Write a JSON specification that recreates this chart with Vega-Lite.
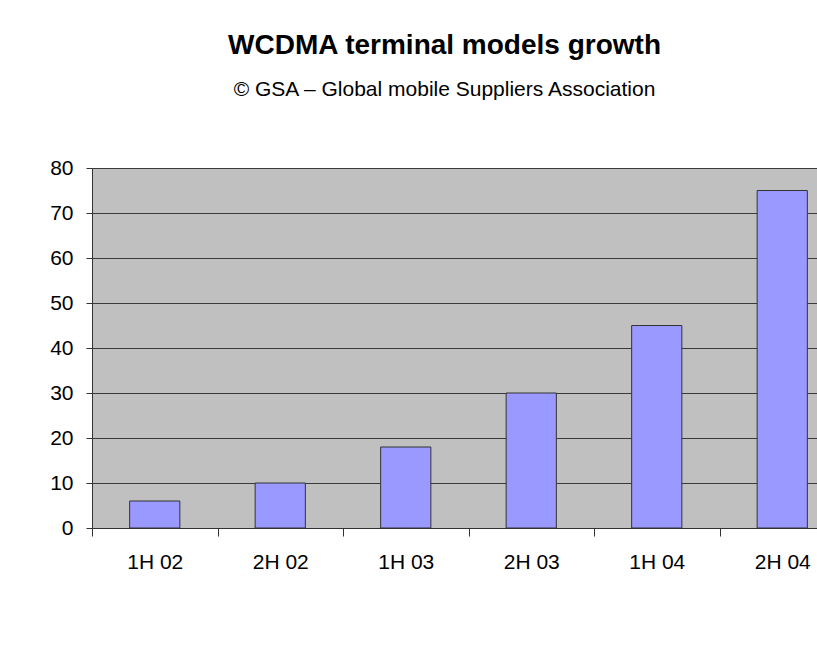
{
  "$schema": "https://vega.github.io/schema/vega-lite/v6.json",
  "autosize": {"type": "none"},
  "width": 725,
  "height": 360,
  "padding": {"left": 92, "top": 168, "right": 0, "bottom": 118},
  "background": "white",
  "title": {
    "text": "WCDMA terminal models growth",
    "subtitle": "© GSA – Global mobile Suppliers Association",
    "font": "Liberation Sans",
    "fontSize": 28,
    "fontWeight": "bold",
    "color": "black",
    "subtitleFont": "Liberation Sans",
    "subtitleFontSize": 21,
    "subtitleColor": "black",
    "subtitlePadding": 19,
    "anchor": "middle",
    "frame": "group",
    "dx": -10,
    "offset": 57
  },
  "data": {
    "values": [
      {"period": "1H 02", "models": 6},
      {"period": "2H 02", "models": 10},
      {"period": "1H 03", "models": 18},
      {"period": "2H 03", "models": 30},
      {"period": "1H 04", "models": 45},
      {"period": "2H 04", "models": 75}
    ]
  },
  "mark": {"type": "bar", "fill": "#9999FF", "stroke": "#333333", "strokeWidth": 1, "width": {"band": 0.4}},
  "encoding": {
    "x": {
      "field": "period",
      "type": "nominal",
      "sort": null,
      "scale": {"range": [0, 753], "paddingInner": 0, "paddingOuter": 0},
      "axis": {
        "title": null,
        "labelAngle": 0,
        "labelFont": "Liberation Sans",
        "labelFontSize": 21,
        "labelColor": "black",
        "labelPadding": 15,
        "tickBand": "extent",
        "tickSize": 8,
        "tickColor": "#333333",
        "domainColor": "#333333",
        "grid": false
      }
    },
    "y": {
      "field": "models",
      "type": "quantitative",
      "scale": {"domain": [0, 80]},
      "axis": {
        "title": null,
        "values": [0, 10, 20, 30, 40, 50, 60, 70, 80],
        "labelFont": "Liberation Sans",
        "labelFontSize": 21,
        "labelColor": "black",
        "labelPadding": 13,
        "tickSize": 6,
        "tickColor": "#333333",
        "domainColor": "#333333",
        "grid": true,
        "gridColor": "#3a3a3a",
        "gridOpacity": 1
      }
    }
  },
  "config": {
    "view": {"fill": "#C0C0C0", "stroke": "#a0a0a0"},
    "axis": {"labelFlush": false}
  }
}
